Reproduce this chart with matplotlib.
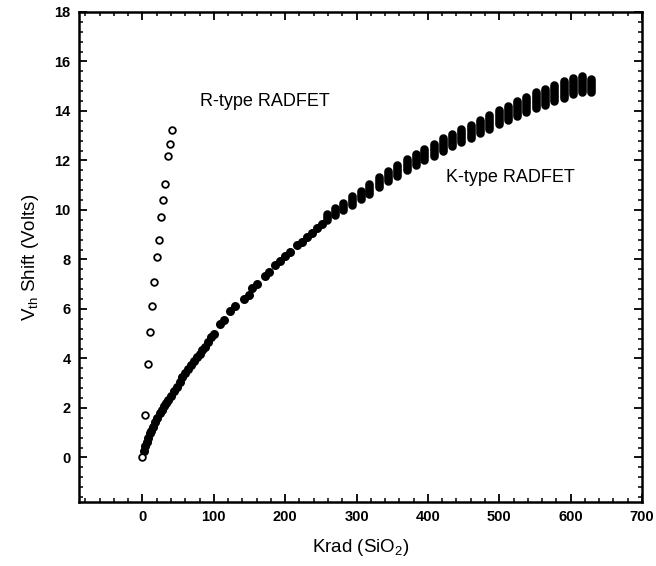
import matplotlib
matplotlib.use("Agg")
import matplotlib.pyplot as plt
from matplotlib.ticker import MultipleLocator, AutoMinorLocator

plt.rcParams['font.family'] = ['Liberation Sans', 'DejaVu Sans']
plt.rcParams['mathtext.fontset'] = 'custom'
plt.rcParams['mathtext.rm'] = 'Liberation Sans'

# R-type RADFET (open circles)
r_dose = [0, 4, 7.3, 10, 13.3, 15.7, 19.9, 22.7, 26.3, 29.1, 31.9, 35.7, 38.9, 41.7]
r_shift = [0.0, 1.73, 3.76, 5.06, 6.13, 7.09, 8.08, 8.80, 9.70, 10.42, 11.06, 12.17, 12.66, 13.25]

# K-type RADFET, dense low-dose part
k_dose = [2, 4, 6, 8, 10, 12, 15, 18, 21, 24, 27, 30, 33, 36, 40, 44, 48, 52, 56, 60,
          64, 68, 72, 76, 80, 84, 88, 92, 96, 100,
          108, 114, 123, 130, 142, 149, 154, 160, 171, 177, 186, 193, 200, 207,
          217, 223, 231, 237, 245, 251]
k_shift = [0.25, 0.45, 0.62, 0.80, 0.97, 1.08, 1.25, 1.42, 1.60, 1.78, 1.92, 2.07, 2.20, 2.33,
           2.50, 2.67, 2.85, 3.05, 3.25, 3.40, 3.57, 3.74, 3.90, 4.05, 4.20, 4.33, 4.47, 4.65,
           4.85, 5.00,
           5.38, 5.56, 5.90, 6.10, 6.40, 6.58, 6.85, 7.02, 7.35, 7.50, 7.76, 7.92, 8.16, 8.32,
           8.58, 8.72, 8.92, 9.05, 9.28, 9.42]

# K-type RADFET, higher doses: each group spans a small range of shifts
k_group_dose = [259, 270, 281, 293, 306, 318, 331, 344, 357, 370, 383, 395, 408, 421, 434,
                447, 460, 473, 486, 499, 512, 525, 538, 551, 564, 577, 590, 603, 616, 628]
k_group_hi = [9.85, 10.08, 10.30, 10.55, 10.78, 11.03, 11.32, 11.57, 11.82, 12.07, 12.28, 12.48,
              12.68, 12.90, 13.08, 13.26, 13.44, 13.65, 13.83, 14.03, 14.21, 14.40, 14.58,
              14.75, 14.90, 15.05, 15.20, 15.33, 15.40, 15.30]
k_group_lo = [9.58, 9.80, 10.00, 10.22, 10.44, 10.66, 10.92, 11.16, 11.38, 11.62, 11.82, 12.02,
              12.20, 12.40, 12.58, 12.74, 12.90, 13.10, 13.27, 13.47, 13.63, 13.80, 13.96,
              14.11, 14.26, 14.39, 14.54, 14.67, 14.78, 14.75]

fig = plt.figure(figsize=(6.56, 5.66), dpi=100)
ax = fig.add_axes([0.1204, 0.1131, 0.8583, 0.8657])

ax.plot(k_dose, k_shift, 'o', color='black', markersize=6.5, markeredgewidth=0)
ax.vlines(k_group_dose, k_group_lo, k_group_hi, color='black', linewidth=6.2, capstyle='round')
ax.plot(r_dose, r_shift, 'o', markerfacecolor='white', markeredgecolor='black',
        markersize=4.8, markeredgewidth=1.3)

ax.text(80, 14.4, 'R-type RADFET', fontsize=13, va='center', ha='left')
ax.text(426, 11.3, 'K-type RADFET', fontsize=13, va='center', ha='left')

ax.set_xlim(-89, 700)
ax.set_ylim(-1.8, 18)
ax.xaxis.set_major_locator(MultipleLocator(100))
ax.xaxis.set_minor_locator(AutoMinorLocator(5))
ax.yaxis.set_major_locator(MultipleLocator(2))
ax.yaxis.set_minor_locator(AutoMinorLocator(5))
ax.tick_params(which='both', direction='in', top=True, right=True, labelsize=10.5, pad=6)
ax.tick_params(which='major', length=6, width=1.3)
ax.tick_params(which='minor', length=3, width=1.1)
for lab in ax.get_xticklabels() + ax.get_yticklabels():
    lab.set_fontweight('bold')
for sp in ax.spines.values():
    sp.set_linewidth(1.8)

ax.set_xlabel(r'Krad (SiO$_2$)', fontsize=13.5, labelpad=9)
ax.set_ylabel(r'V$_{\rm th}$ Shift (Volts)', fontsize=13.5, labelpad=10)

fig.savefig('out.png', dpi=100)
